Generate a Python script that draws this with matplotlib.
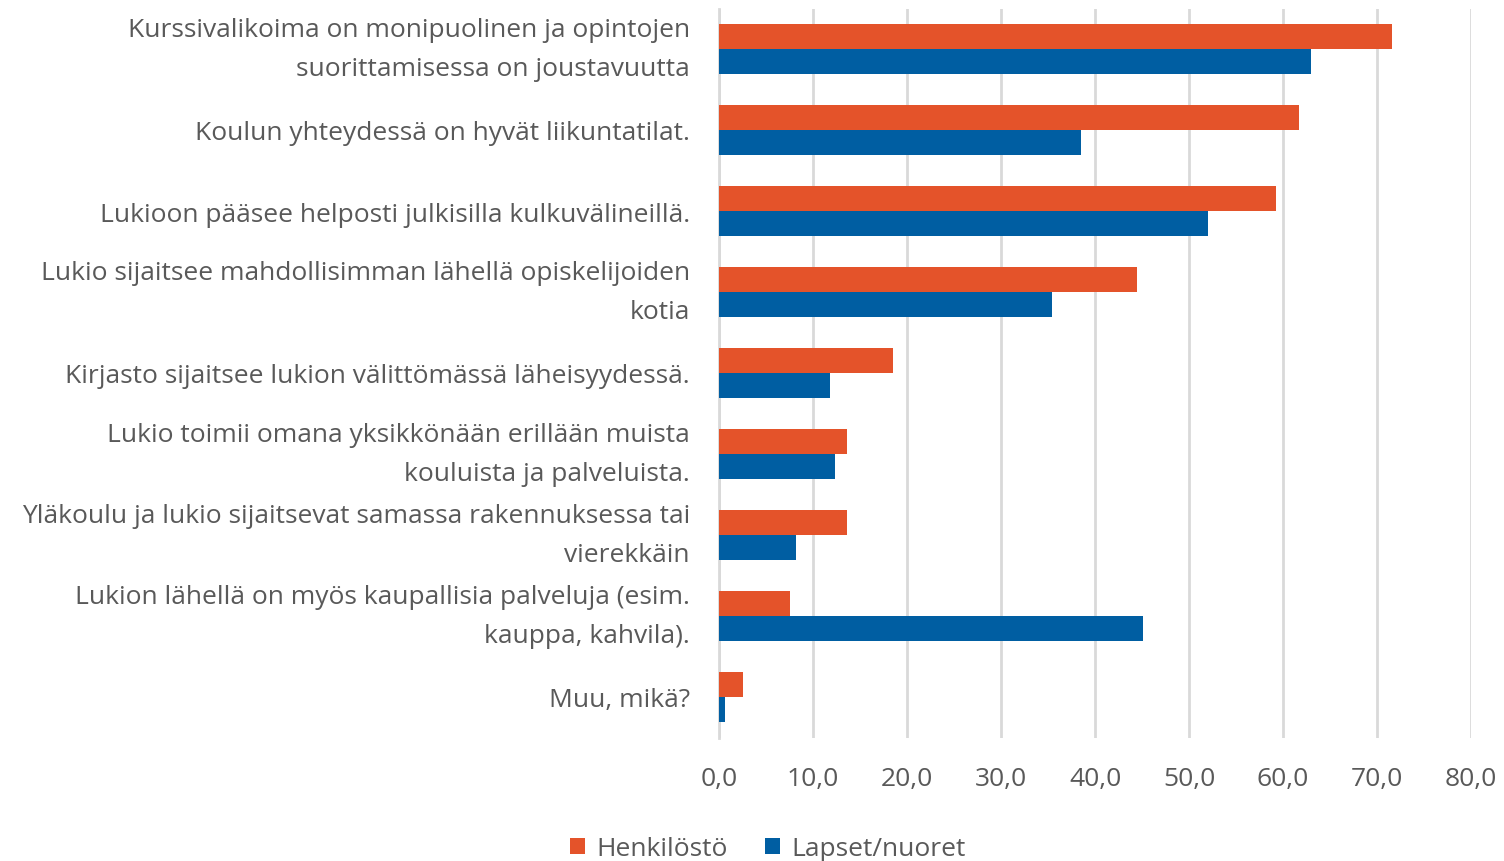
import matplotlib
matplotlib.use("Agg")
import matplotlib.pyplot as plt
import numpy as np

categories = [
    "Kurssivalikoima on monipuolinen ja opintojen\nsuorittamisessa on joustavuutta",
    "Koulun yhteydessä on hyvät liikuntatilat.",
    "Lukioon pääsee helposti julkisilla kulkuvälineillä.",
    "Lukio sijaitsee mahdollisimman lähellä opiskelijoiden\nkotia",
    "Kirjasto sijaitsee lukion välittömässä läheisyydessä.",
    "Lukio toimii omana yksikkönään erillään muista\nkouluista ja palveluista.",
    "Yläkoulu ja lukio sijaitsevat samassa rakennuksessa tai\nvierekkäin",
    "Lukion lähellä on myös kaupallisia palveluja (esim.\nkauppa, kahvila).",
    "Muu, mikä?",
]
henkilosto = [71.6, 61.7, 59.3, 44.5, 18.5, 13.6, 13.6, 7.5, 2.6]
lapset = [63.0, 38.5, 52.0, 35.4, 11.8, 12.3, 8.2, 45.1, 0.6]
series_names = ["Henkilöstö", "Lapset/nuoret"]
xticks = [0, 10, 20, 30, 40, 50, 60, 70, 80]

c_orange = "#E4532A"
c_blue = "#005EA2"
txt = "#595959"

plt.rcParams['font.family'] = ['Open Sans', 'DejaVu Sans']
fs = 19

fig = plt.figure(figsize=(15.04, 8.62), dpi=100)
ax = fig.add_axes([719/1504, 1-738.5/862, (1471-719)/1504, (738.5-9.5)/862])

n = len(categories)
y = np.arange(n)
h = 0.31
ax.barh(y - h/2, henkilosto, height=h, color=c_orange, label=series_names[0], zorder=3)
ax.barh(y + h/2, lapset, height=h, color=c_blue, label=series_names[1], zorder=3)

ax.set_ylim(n - 0.5, -0.5)
ax.set_xlim(0, 80)
ax.set_xticks(xticks)
ax.set_xticklabels([f"{v:.1f}".replace(".", ",") for v in xticks], fontsize=fs, color=txt)
ax.set_yticks(y)
ax.set_yticklabels(categories, fontsize=fs, color=txt, linespacing=1.7)
for lab in ax.get_yticklabels():
    if "\n" in lab.get_text():
        lab.set_verticalalignment('center')
ax.tick_params(axis='both', length=0)
ax.tick_params(axis='x', pad=20.5)
ax.tick_params(axis='y', pad=21)

ax.grid(axis='x', color="#D9D9D9", linewidth=2, zorder=0)
for s in ['top', 'right', 'bottom']:
    ax.spines[s].set_visible(False)
ax.spines['left'].set_color("#D9D9D9")
ax.spines['left'].set_linewidth(2)

leg = fig.legend(loc='center', bbox_to_anchor=(768/1504, 1-850/862), ncol=2, frameon=False,
                 fontsize=fs, handlelength=0.58, handleheight=0.58, handletextpad=0.43,
                 columnspacing=1.4, labelcolor=txt)

fig.savefig("out.png", dpi=100)
